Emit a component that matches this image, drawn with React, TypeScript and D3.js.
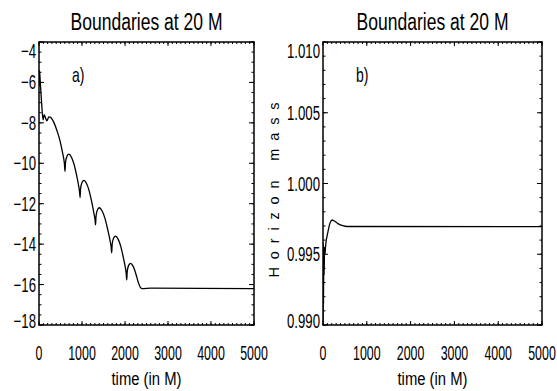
import * as d3 from "d3";

// panel a) : boundary quantity vs time
const timeA = [0, 12, 30, 60, 95, 120, 150, 185, 230, 280, 350, 420, 490, 550, 590, 605,
  617, 650, 695, 755, 815, 875, 925, 945, 955,
  967, 1000, 1045, 1105, 1165, 1225, 1280, 1303, 1315,
  1327, 1360, 1405, 1465, 1530, 1595, 1655, 1678, 1690,
  1702, 1735, 1780, 1840, 1900, 1960, 2015, 2030, 2040,
  2052, 2085, 2130, 2190, 2250, 2310, 2360, 2400, 2600, 5000];
const valueA = [-6.2, -5.4, -6.0, -7.0, -7.85, -7.6, -7.75, -7.9, -7.7, -7.75, -8.0, -8.4, -8.9, -9.5, -10.0, -10.4,
  -9.95, -9.65, -9.55, -9.7, -10.05, -10.6, -11.15, -11.45, -11.7,
  -11.25, -10.95, -10.85, -11.0, -11.35, -11.9, -12.5, -12.8, -13.05,
  -12.6, -12.3, -12.2, -12.35, -12.7, -13.25, -13.85, -14.15, -14.43,
  -14.0, -13.7, -13.6, -13.75, -14.1, -14.65, -15.25, -15.5, -15.77,
  -15.35, -15.05, -14.95, -15.1, -15.45, -15.9, -16.15, -16.2, -16.18, -16.2];

// panel b) : horizon mass vs time
const timeB = [0, 6, 12, 18, 26, 35, 45, 60, 114, 160, 205, 260, 350, 450, 550, 5000];
const valueB = [0.9885, 0.9958, 0.9915, 0.9952, 0.9935, 0.9955, 0.9950, 0.9956, 0.9966, 0.9972, 0.99742, 0.99735, 0.99715, 0.99702, 0.99696, 0.99695];

const xTicks = [0, 1000, 2000, 3000, 4000, 5000];
const yTicksA = [-18, -16, -14, -12, -10, -8, -6, -4];
const yTicksB = [0.99, 0.995, 1.0, 1.005, 1.01];

const TOP = 42;
const BOTTOM = 325;
const FONT = "'Liberation Sans', Arial, sans-serif";

type PanelProps = {
  id: string;
  left: number;
  right: number;
  t: number[];
  v: number[];
  yDomain: [number, number];
  yTicks: number[];
  yMinorStep: number;
  fmt: (d: number) => string;
  tag: string;
};

const Panel = ({ id, left, right, t, v, yDomain, yTicks, yMinorStep, fmt, tag }: PanelProps) => {
  const x = d3.scaleLinear().domain([0, 5000]).range([left, right]);
  const y = d3.scaleLinear().domain(yDomain).range([BOTTOM, TOP]);
  const pts = t.map((d, i) => [d, v[i]] as [number, number]);
  const line = d3
    .line<[number, number]>()
    .x((d) => x(d[0]))
    .y((d) => y(d[1]))
    .curve(d3.curveMonotoneX);

  const xMinor = d3.range(0, 5001, 100);
  const nMinor = Math.round((yDomain[1] - yDomain[0]) / yMinorStep);
  const yMinor = d3.range(0, nMinor + 1).map((i) => yDomain[0] + i * yMinorStep);
  const cx = (left + right) / 2;

  return (
    <g>
      <defs>
        <clipPath id={id}>
          <rect x={left} y={TOP} width={right - left} height={BOTTOM - TOP} />
        </clipPath>
      </defs>
      <text x={cx} y={30} textAnchor="middle" fontFamily={FONT} fontSize={23}
        textLength={152} lengthAdjust="spacingAndGlyphs">Boundaries at 20 M</text>

      {/* minor ticks */}
      {xMinor.map((d) => (
        <g key={"xm" + d}>
          <line x1={x(d)} x2={x(d)} y1={BOTTOM} y2={BOTTOM - 2} stroke="#000" />
          <line x1={x(d)} x2={x(d)} y1={TOP} y2={TOP + 2} stroke="#000" />
        </g>
      ))}
      {yMinor.map((d, i) => (
        <g key={"ym" + i}>
          <line x1={left} x2={left + 2.5} y1={y(d)} y2={y(d)} stroke="#000" />
          <line x1={right} x2={right - 2.5} y1={y(d)} y2={y(d)} stroke="#000" />
        </g>
      ))}
      {/* major ticks and labels */}
      {xTicks.map((d) => (
        <g key={"x" + d}>
          <line x1={x(d)} x2={x(d)} y1={BOTTOM} y2={BOTTOM - 4} stroke="#000" />
          <line x1={x(d)} x2={x(d)} y1={TOP} y2={TOP + 4} stroke="#000" />
          <text transform={`translate(${x(d)},360) scale(0.62,1)`} textAnchor="middle"
            fontFamily={FONT} fontSize={20}>{d}</text>
        </g>
      ))}
      {yTicks.map((d) => {
        const ly = Math.min(Math.max(y(d), TOP + 9), BOTTOM - 4);
        return (
          <g key={"y" + d}>
            <line x1={left} x2={left + 5} y1={y(d)} y2={y(d)} stroke="#000" />
            <line x1={right} x2={right - 5} y1={y(d)} y2={y(d)} stroke="#000" />
            <text transform={`translate(${left - 3},${ly + 7}) scale(0.66,1)`} textAnchor="end"
              fontFamily={FONT} fontSize={20}>{fmt(d)}</text>
          </g>
        );
      })}

      <path d={line(pts) || ""} fill="none" stroke="#000" strokeWidth={1.3} clipPath={`url(#${id})`} />
      <rect x={left} y={TOP} width={right - left} height={BOTTOM - TOP} fill="none" stroke="#000" strokeWidth={1.5} />

      <text transform={`translate(${left + 33},82) scale(0.7,1)`} fontFamily={FONT} fontSize={20}>{tag}</text>
      <text x={cx} y={385} textAnchor="middle" fontFamily={FONT} fontSize={18}
        textLength={70} lengthAdjust="spacingAndGlyphs">time (in M)</text>
    </g>
  );
};

export default function App() {
  return (
    <svg width={557} height={391} style={{ position: "absolute", left: 0, top: 0, background: "#fff" }}>
      <rect width={557} height={391} fill="#fff" />
      <Panel id="clipA" left={39} right={254} t={timeA} v={valueA} yDomain={[-18, -4]}
        yTicks={yTicksA} yMinorStep={0.5} fmt={(d) => d3.format("d")(d).replace("-", "\u2212")} tag="a)" />
      <Panel id="clipB" left={323} right={542} t={timeB} v={valueB} yDomain={[0.99, 1.01]}
        yTicks={yTicksB} yMinorStep={0.001} fmt={d3.format(".3f")} tag="b)" />
      <text transform="translate(279,190) rotate(-90)" textAnchor="middle" fontFamily={FONT}
        fontSize={14.5} textLength={175} lengthAdjust="spacing">Horizon mass</text>
    </svg>
  );
}
